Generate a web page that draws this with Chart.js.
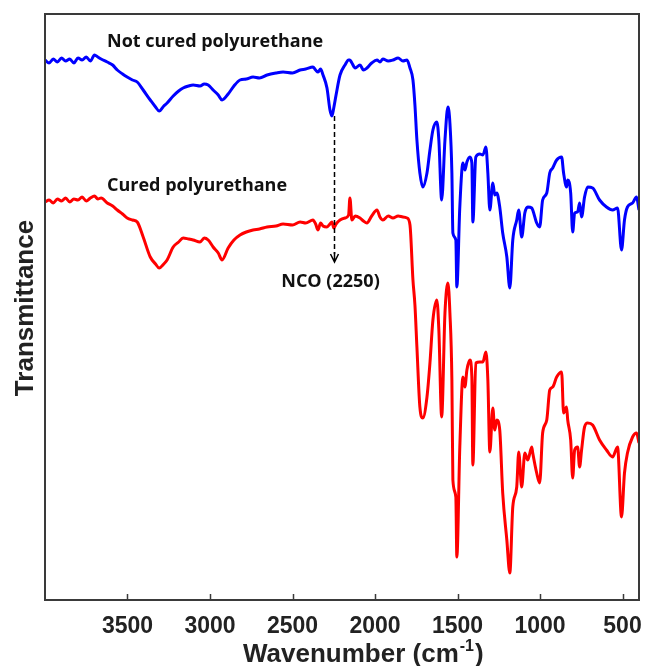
<!DOCTYPE html>
<html lang="en">
<head>
    <meta charset="UTF-8">
    <title>FTIR - polyurethane</title>

    <!-- Chart.js -->
    <script src="https://cdn.jsdelivr.net/npm/chart.js"></script>

    <style>
        html, body {
            margin: 0;
            padding: 0;
            background: #fff;
        }
        #wrap {
            width: 645px;
            height: 666px;
        }
    </style>
</head>
<body>

    <div id="wrap"><canvas id="ftir" width="645" height="666"></canvas></div>

    <script>
        // Wavenumber (cm-1) of each sampled point, high to low
        const wavenumber = [
            4000, 3975, 3950, 3925, 3900, 3875, 3850, 3825, 3800, 3775,
            3750, 3725, 3700, 3680, 3660, 3623, 3590, 3562, 3530, 3502,
            3470, 3441, 3405, 3362, 3330, 3308, 3280, 3260, 3223, 3190,
            3163, 3130, 3102, 3060, 3035, 3011, 2981, 2950, 2927, 2890,
            2855, 2818, 2780, 2739, 2700, 2654, 2600, 2557, 2500, 2454,
            2420, 2376, 2360, 2345, 2330, 2315, 2291, 2273, 2261, 2250,
            2236, 2212, 2182, 2160, 2152, 2140, 2120, 2091, 2070, 2049,
            2020, 1988, 1970, 1952, 1920, 1891, 1860, 1831, 1806, 1788,
            1770, 1758, 1746, 1728, 1710, 1685, 1667, 1649, 1625, 1613,
            1596, 1576, 1558, 1546, 1534, 1528, 1510, 1504, 1486, 1467,
            1455, 1443, 1425, 1413, 1407, 1389, 1365, 1346, 1328, 1316,
            1304, 1286, 1274, 1262, 1244, 1226, 1201, 1183, 1165, 1141,
            1129, 1111, 1092, 1074, 1050, 1044, 1020, 1002, 984, 959,
            941, 923, 899, 869, 857, 839, 832, 814, 802, 790,
            772, 760, 748, 730, 711, 681, 639, 597, 560, 530,
            506, 488, 470, 439, 415, 400
        ];

        // Transmittance (a.u., offset traces)
        const notCured = [
            540, 537, 541, 538, 542, 539, 541, 537, 542, 540,
            543, 539, 545, 543, 541, 538, 535, 530, 526, 523,
            520, 518, 510, 500, 493, 489, 494, 497, 504, 509,
            512, 514, 515, 514, 516, 515, 510, 505, 500, 506,
            514, 520, 521, 523, 522, 525, 527, 528, 527, 530,
            531, 533, 530, 528, 531, 525, 512, 490, 484, 492,
            505, 525, 535, 540, 540, 537, 532, 535, 530, 532,
            537, 540, 538, 541, 539, 540, 542, 539, 540, 532,
            520, 495, 460, 427, 413, 427, 450, 470, 478, 460,
            400, 460, 493, 477, 427, 367, 360, 313, 393, 437,
            430, 438, 443, 437, 378, 443, 446, 445, 453, 427,
            390, 417, 405, 407, 393, 367, 343, 312, 360, 380,
            390, 363, 387, 393, 392, 390, 377, 373, 400, 407,
            427, 432, 440, 443, 427, 413, 420, 407, 368, 387,
            388, 397, 383, 403, 413, 412, 400, 393, 390, 392,
            350, 380, 393, 397, 403, 390
        ];

        const cured = [
            398, 400, 397, 401, 399, 402, 398, 401, 400, 403,
            399, 402, 404, 401, 402, 397, 394, 390, 386, 382,
            380, 378, 363, 343, 336, 332, 336, 340, 353, 358,
            362, 361, 360, 358, 362, 360, 353, 347, 340, 352,
            360, 365, 368, 370, 371, 373, 374, 376, 375, 378,
            377, 380, 376, 370, 377, 374, 373, 376, 378, 372,
            376, 380, 382, 385, 402, 380, 384, 382, 379, 377,
            384, 390, 383, 380, 384, 382, 384, 383, 382, 375,
            320, 295, 253, 193, 182, 203, 237, 280, 300, 270,
            183, 287, 317, 287, 220, 120, 103, 43, 153, 223,
            213, 230, 240, 223, 135, 237, 238, 238, 248, 220,
            148, 192, 170, 180, 170, 107, 60, 27, 93, 113,
            148, 113, 147, 140, 153, 147, 127, 117, 167, 180,
            210, 213, 223, 228, 187, 193, 180, 160, 122, 150,
            153, 133, 150, 173, 177, 175, 160, 150, 143, 153,
            83, 127, 147, 163, 167, 157
        ];

        const tickValues = [3500, 3000, 2500, 2000, 1500, 1000, 500];

        // NCO band marker: dashed arrow from the uncured dip down past the cured trace
        const ncoPeak = 2250;
        const ncoArrowTop = 484;
        const ncoArrowTip = 338;

        const toPoints = vals => vals.map((v, i) => ({ x: wavenumber[i], y: v }));

        const labelFont = '700 18px "Open Sans", sans-serif';
        const axisFont = 'bold 26px "Liberation Sans", Arial, sans-serif';

        // Frame, inward ticks, axis titles and text annotations
        const decorations = {
            id: 'decorations',
            afterDraw(chart) {
                const { ctx, chartArea: a, scales: { x, y } } = chart;
                ctx.save();

                // box around the plot
                ctx.strokeStyle = '#3a3a3a';
                ctx.lineWidth = 2;
                ctx.strokeRect(a.left, a.top, a.right - a.left, a.bottom - a.top);

                // short tick marks pointing into the plot
                ctx.lineWidth = 1.5;
                tickValues.forEach(v => {
                    const px = Math.round(x.getPixelForValue(v)) + 0.5;
                    ctx.beginPath();
                    ctx.moveTo(px, a.bottom);
                    ctx.lineTo(px, a.bottom - 6);
                    ctx.stroke();
                });

                // NCO arrow
                const ax = Math.round(x.getPixelForValue(ncoPeak)) + 0.5;
                const y0 = y.getPixelForValue(ncoArrowTop);
                const y1 = y.getPixelForValue(ncoArrowTip);
                ctx.strokeStyle = '#000';
                ctx.lineWidth = 1.5;
                ctx.setLineDash([5, 3]);
                ctx.beginPath();
                ctx.moveTo(ax, y0);
                ctx.lineTo(ax, y1 - 8);
                ctx.stroke();
                ctx.setLineDash([]);
                ctx.beginPath();
                ctx.moveTo(ax, y1 - 10);
                ctx.lineTo(ax, y1);
                ctx.moveTo(ax - 4, y1 - 8);
                ctx.lineTo(ax, y1);
                ctx.lineTo(ax + 4, y1 - 8);
                ctx.stroke();

                // trace labels
                ctx.fillStyle = '#111';
                ctx.font = labelFont;
                ctx.textBaseline = 'alphabetic';
                ctx.textAlign = 'left';
                ctx.fillText('Not cured polyurethane', 107, 47);
                ctx.fillText('Cured polyurethane', 107, 191);
                ctx.textAlign = 'center';
                ctx.fillText(`NCO (${ncoPeak})`, ax - 4, 287);

                // x axis title with superscript
                ctx.fillStyle = '#222';
                ctx.textAlign = 'left';
                ctx.font = axisFont;
                const t1 = 'Wavenumber (cm';
                let tx = 243;
                ctx.fillText(t1, tx, 662);
                tx += ctx.measureText(t1).width + 1;
                ctx.font = 'bold 16px "Liberation Sans", Arial, sans-serif';
                ctx.fillText('-1', tx, 651);
                tx += ctx.measureText('-1').width + 1;
                ctx.font = axisFont;
                ctx.fillText(')', tx, 662);

                // y axis title
                ctx.translate(33, 308);
                ctx.rotate(-Math.PI / 2);
                ctx.textAlign = 'center';
                ctx.fillText('Transmittance', 0, 0);

                ctx.restore();
            }
        };

        const ctx = document.getElementById('ftir').getContext('2d');
        new Chart(ctx, {
            type: 'line',
            data: {
                datasets: [
                    {
                        label: 'Not cured polyurethane',
                        data: toPoints(notCured),
                        borderColor: '#0000ff',
                        borderWidth: 3,
                        pointRadius: 0,
                        cubicInterpolationMode: 'monotone',
                        fill: false
                    },
                    {
                        label: 'Cured polyurethane',
                        data: toPoints(cured),
                        borderColor: '#ff0000',
                        borderWidth: 3,
                        pointRadius: 0,
                        cubicInterpolationMode: 'monotone',
                        fill: false
                    }
                ]
            },
            options: {
                responsive: false,
                animation: false,
                layout: { padding: { left: 45, right: 6, top: 14, bottom: 0 } },
                plugins: {
                    legend: { display: false },
                    tooltip: { enabled: false }
                },
                scales: {
                    x: {
                        type: 'linear',
                        reverse: true,
                        min: 400,
                        max: 4000,
                        grid: { display: false },
                        border: { display: false },
                        afterBuildTicks: s => { s.ticks = tickValues.map(v => ({ value: v })); },
                        afterFit: s => {
                            s.height = 66;
                            s.paddingLeft = 0;
                            s.paddingRight = 0;
                        },
                        ticks: {
                            autoSkip: false,
                            maxRotation: 0,
                            padding: 5,
                            color: '#222',
                            callback: v => String(v),
                            font: { family: '"Liberation Sans", Arial, sans-serif', size: 23, weight: 'bold' }
                        }
                    },
                    y: {
                        display: false,
                        min: 0,
                        max: 586
                    }
                }
            },
            plugins: [decorations]
        });
    </script>

</body>
</html>
